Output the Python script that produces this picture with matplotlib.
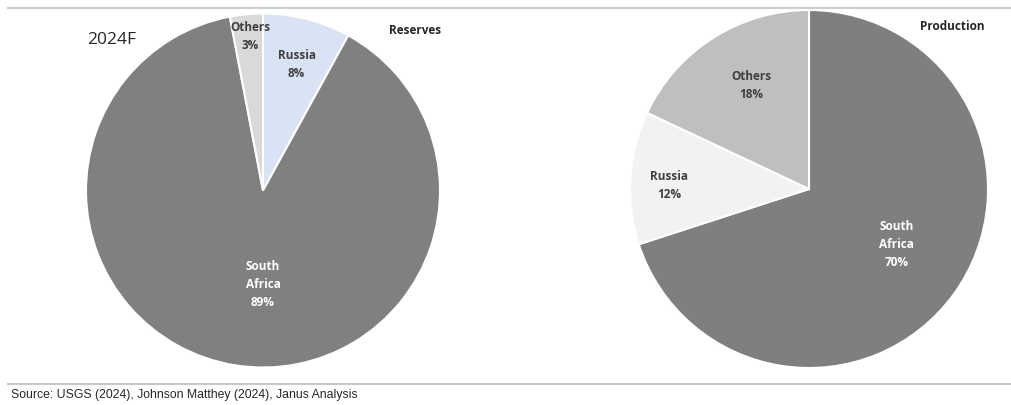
import matplotlib.pyplot as plt

plt.rcParams['font.family'] = ['Open Sans', 'DejaVu Sans']

# ===== data
reserve_names = ["Russia", "South\nAfrica", "Others"]
reserve_share = [8, 89, 3]
reserve_colors = ["#dae3f3", "#808080", "#d9d9d9"]

prod_names = ["South\nAfrica", "Russia", "Others"]
prod_share = [70, 12, 18]
prod_colors = ["#7f7f7f", "#f2f2f2", "#bfbfbf"]

W, H = 1011, 405


def pie_axes(fig, cx, cy, r):
    """pixel centre / radius -> axes holding a unit pie"""
    return fig.add_axes([(cx - r) / W, (H - cy - r) / H, 2 * r / W, 2 * r / H])


def fix_limits(ax):
    # pie() resets limits, so set them afterwards
    ax.set_xlim(-1, 1)
    ax.set_ylim(-1, 1)
    ax.axis("off")


def main():
    fig = plt.figure(figsize=(W / 100, H / 100), dpi=100)

    # ===== reserves
    ax1 = pie_axes(fig, 263, 190.5, 177)
    ax1.pie(reserve_share, colors=reserve_colors, startangle=90, counterclock=False,
            radius=1, wedgeprops=dict(edgecolor="white", linewidth=1.5))
    fix_limits(ax1)
    pos1 = [(0.19, 0.71), (0.0, -0.53), (-0.07, 0.87)]
    txt1 = ["#404040", "white", "#404040"]
    for name, v, (x, y), c in zip(reserve_names, reserve_share, pos1, txt1):
        ax1.text(x, y, f"{name}\n{v}%", ha="center", va="center", fontsize=8.5,
                 fontweight="bold", color=c, linespacing=1.5)

    # ===== production
    ax2 = pie_axes(fig, 809, 189, 179)
    ax2.pie(prod_share, colors=prod_colors, startangle=90, counterclock=False,
            radius=1, wedgeprops=dict(edgecolor="white", linewidth=1.5))
    fix_limits(ax2)
    pos2 = [(0.49, -0.31), (-0.78, 0.02), (-0.32, 0.58)]
    txt2 = ["white", "#404040", "#404040"]
    for name, v, (x, y), c in zip(prod_names, prod_share, pos2, txt2):
        ax2.text(x, y, f"{name}\n{v}%", ha="center", va="center", fontsize=8.5,
                 fontweight="bold", color=c, linespacing=1.5)

    # ===== titles / frame
    fig.text(112 / W, 1 - 40 / H, "2024F", fontsize=12.5, color="#262626",
             ha="center", va="center")
    fig.text(415 / W, 1 - 30 / H, "Reserves", fontsize=8.5, fontweight="bold",
             color="#262626", ha="center", va="center")
    fig.text(952 / W, 1 - 26 / H, "Production", fontsize=8.5, fontweight="bold",
             color="#262626", ha="center", va="center")

    fig.add_artist(plt.Line2D([8 / W, 1], [1 - 8 / H] * 2, color="#c9d2d2", lw=1.5))
    fig.add_artist(plt.Line2D([8 / W, 1], [1 - 384 / H] * 2, color="#c8c8c8", lw=1.5))
    fig.text(11 / W, 1 - 395 / H, "Source: USGS (2024), Johnson Matthey (2024), Janus Analysis",
             fontsize=8.8, color="#262626", ha="left", va="center",
             family=["Liberation Sans", "DejaVu Sans"])

    fig.savefig("out.png", dpi=100)


if __name__ == "__main__":
    main()
